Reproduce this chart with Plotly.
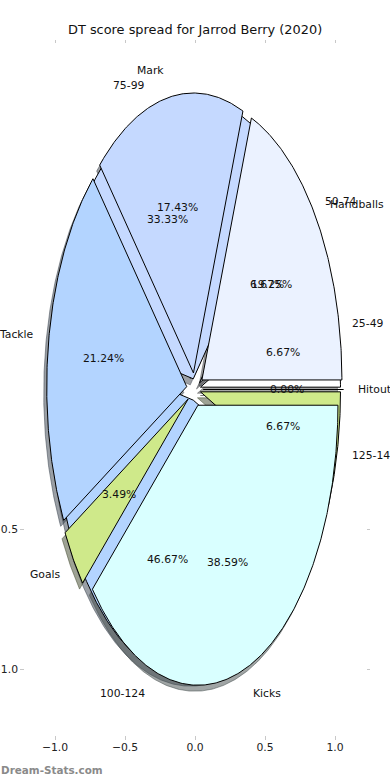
import numpy as np
import plotly.graph_objects as go

# ---- data ----
title_text = "DT score spread for Jarrod Berry (2020)"
stat_labels = ["Hitout", "Handballs", "Mark", "Tackle", "Goals", "Kicks"]
stat_pcts = [0.00, 19.25, 17.43, 21.24, 3.49, 38.59]
score_labels = ["25-49", "50-74", "75-99", "100-124", "125-149"]
score_counts = [1, 1, 5, 7, 1]
colors = ["#ffffff", "#ebf2ff", "#c5d9ff", "#b3d4ff", "#cfe98a", "#d9ffff"]
x_tickvals = [-1.0, -0.5, 0.0, 0.5, 1.0]
x_ticktext = ["\u22121.0", "\u22120.5", "0.0", "0.5", "1.0"]
y_tickvals = [-1.0, -0.5]
y_ticktext = ["\u22121.0", "\u22120.5"]
watermark = "Dream-Stats.com"

# ---- style ----
EXPLODE_STATS = 0.06
EXPLODE_SCORES = 0.04
SH = 0.0215          # shadow offset (data units)
FONT = "DejaVu Sans"
W, H = 390, 780
X0, X1 = 20, 370     # axes pixels
Y0, Y1 = 39.5, 739.5


def hex_rgb(h):
    h = h.lstrip("#")
    return [int(h[i:i + 2], 16) for i in (0, 2, 4)]


def build(values, labels, explode):
    vals = np.asarray(values, dtype=float)
    fr = vals / vals.sum()
    out = []
    start = 0.0
    for i, f in enumerate(fr):
        t1, t2 = start, start + 360.0 * f
        tm = np.deg2rad((t1 + t2) / 2)
        cx, cy = explode * np.cos(tm), explode * np.sin(tm)
        n = max(2, int(abs(t2 - t1) / 0.5) + 2)
        a = np.deg2rad(np.linspace(t1, t2, n))
        xs = np.concatenate([[cx], cx + np.cos(a), [cx]])
        ys = np.concatenate([[cy], cy + np.sin(a), [cy]])
        out.append(dict(xs=xs, ys=ys, tm=tm, cx=cx, cy=cy, pct=100 * f,
                        label=labels[i], color=colors[i % len(colors)]))
        start = t2
    return out


score_w = build(score_counts, score_labels, EXPLODE_SCORES)
stat_w = build(stat_pcts, stat_labels, EXPLODE_STATS)
all_w = score_w + stat_w

fig = go.Figure()

# shadows first (below all wedges)
for w in all_w:
    r, g, b = [int(0.3 * c) for c in hex_rgb(w["color"])]
    sc = f"rgba({r},{g},{b},0.5)"
    fig.add_trace(go.Scatter(x=w["xs"] - SH, y=w["ys"] - SH, mode="lines",
                             fill="toself", fillcolor=sc,
                             line=dict(color=sc, width=1),
                             hoverinfo="skip", showlegend=False))

# wedges
for w in all_w:
    fig.add_trace(go.Scatter(x=w["xs"], y=w["ys"], mode="lines",
                             fill="toself", fillcolor=w["color"],
                             line=dict(color="black", width=1),
                             hoverinfo="skip", showlegend=False))

ann = []
for w in all_w:
    c, s = np.cos(w["tm"]), np.sin(w["tm"])
    # category label
    lx, ly = w["cx"] + 1.1 * c, w["cy"] + 1.1 * s
    ann.append(dict(x=lx, y=ly, xref="x", yref="y", text=w["label"],
                    showarrow=False, xanchor="left" if lx > 0 else "right",
                    yanchor="middle", borderpad=0,
                    font=dict(family=FONT, size=10.8, color="#111")))
    # percentage label
    px, py = w["cx"] + 0.6 * c, w["cy"] + 0.6 * s
    ann.append(dict(x=px, y=py, xref="x", yref="y", text=f"{w['pct']:.2f}%",
                    showarrow=False, xanchor="center", yanchor="middle", borderpad=0,
                    font=dict(family=FONT, size=10.8, color="#111")))

ann.append(dict(x=0.5, y=1 - 30 / H, xref="paper", yref="paper", text=title_text,
                showarrow=False, xanchor="center", yanchor="middle",
                font=dict(family=FONT, size=12.9, color="#111")))
ann.append(dict(x=0, y=1 - 770 / H, xref="paper", yref="paper", text=f"<b>{watermark}</b>",
                showarrow=False, xanchor="left", yanchor="middle", borderpad=0,
                font=dict(family=FONT, size=10.4, color="#8a8a8a")))

axis_common = dict(range=[-1.25, 1.25], showgrid=False, zeroline=False, showline=False,
                   ticks="inside", ticklen=3.5, tickwidth=1, tickcolor="#c8c8c8",
                   mirror="ticks", tickfont=dict(family=FONT, size=10.8, color="#222"),
                   fixedrange=True, automargin=False)

fig.update_layout(
    width=W, height=H, autosize=False,
    margin=dict(l=0, r=0, t=0, b=0),
    paper_bgcolor="white", plot_bgcolor="white",
    showlegend=False, hovermode=False,
    xaxis=dict(domain=[X0 / W, X1 / W], tickvals=x_tickvals, ticktext=x_ticktext, **axis_common),
    yaxis=dict(domain=[1 - Y1 / H, 1 - Y0 / H], tickvals=y_tickvals, ticktext=y_ticktext,
               ticklabelstandoff=1, **axis_common),
    annotations=ann,
    font=dict(family=FONT),
)

fig.write_html("out.html", config={"displayModeBar": False, "staticPlot": True},
               post_script="document.body.style.margin='0';document.body.style.overflow='hidden';")
